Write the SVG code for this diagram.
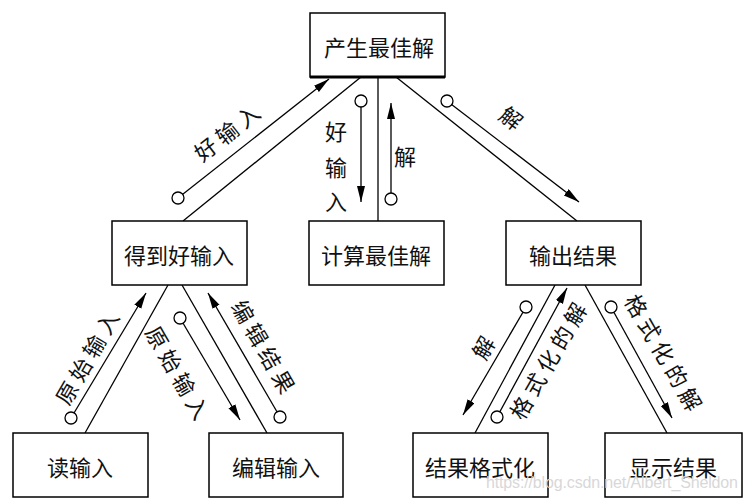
<svg xmlns="http://www.w3.org/2000/svg" width="748" height="501" viewBox="0 0 748 501">
<style>
.box{fill:#fff;stroke:#000;stroke-width:1.5}
.bt{font-family:"Noto Sans CJK SC","Noto Sans",sans-serif;font-size:22px;fill:#111;text-anchor:middle;dominant-baseline:central}
.lb{font-family:"Noto Sans CJK SC","Noto Sans",sans-serif;font-size:22px;fill:#111;text-anchor:middle;dominant-baseline:central;letter-spacing:5px}
.ln{stroke:#000;stroke-width:1.3;fill:none}
.ar{stroke:#000;stroke-width:1.3;fill:none;marker-end:url(#ah)}
.dot{fill:#fff;stroke:#000;stroke-width:1.3}
.wm{font-family:"Liberation Sans",Arial,sans-serif;font-size:16px;fill:#d8d8d8}
</style>
<defs>
<marker id="ah" markerUnits="userSpaceOnUse" markerWidth="18" markerHeight="10" refX="16" refY="4" orient="auto">
<path d="M0,0 L16,4 L0,8 Z" fill="#000"/>
</marker>
</defs>
<rect width="748" height="501" fill="#fff"/>
<g id="connectors">
<line class="ln" x1="183" y1="221" x2="361" y2="77"/>
<line class="ln" x1="378" y1="77" x2="378" y2="221"/>
<line class="ln" x1="396" y1="77" x2="577" y2="221"/>
<line class="ln" x1="85" y1="433" x2="168" y2="285"/>
<line class="ln" x1="182" y1="285" x2="267" y2="433"/>
<line class="ln" x1="555" y1="285" x2="475" y2="433"/>
<line class="ln" x1="585" y1="285" x2="667" y2="433"/>
<line class="ar" x1="178" y1="198" x2="329" y2="79"/>
<line class="ar" x1="361" y1="101" x2="361" y2="202"/>
<line class="ar" x1="391" y1="199" x2="391" y2="103"/>
<line class="ar" x1="447" y1="101" x2="579" y2="202"/>
<line class="ar" x1="71" y1="418" x2="146" y2="293"/>
<line class="ar" x1="180" y1="318" x2="240" y2="420"/>
<line class="ar" x1="280" y1="417" x2="208" y2="293"/>
<line class="ar" x1="526" y1="307" x2="463" y2="415"/>
<line class="ar" x1="497" y1="417" x2="567" y2="288"/>
<line class="ar" x1="611" y1="307" x2="672" y2="418"/>
<circle class="dot" cx="178" cy="198" r="6"/>
<circle class="dot" cx="361" cy="101" r="6"/>
<circle class="dot" cx="391" cy="199" r="6"/>
<circle class="dot" cx="447" cy="101" r="6"/>
<circle class="dot" cx="71" cy="418" r="6"/>
<circle class="dot" cx="180" cy="318" r="6"/>
<circle class="dot" cx="280" cy="417" r="6"/>
<circle class="dot" cx="526" cy="307" r="6"/>
<circle class="dot" cx="497" cy="417" r="6"/>
<circle class="dot" cx="611" cy="307" r="6"/>
<text class="lb" transform="translate(228,130) rotate(-38)">好输入</text>
<text class="bt" x="336" y="130">好</text>
<text class="bt" x="336" y="166">输</text>
<text class="bt" x="336" y="200">入</text>
<text class="bt" x="405" y="155">解</text>
<text class="bt" transform="translate(512,117) rotate(38)">解</text>
<text class="lb" transform="translate(87,355) rotate(-60)">原始输入</text>
<text class="lb" transform="translate(180,374) rotate(60)">原始输入</text>
<text class="lb" transform="translate(266,348) rotate(60)">编辑结果</text>
<text class="bt" transform="translate(482,347) rotate(-60)">解</text>
<text class="lb" transform="translate(548,358) rotate(-60)">格式化的解</text>
<text class="lb" transform="translate(666,354) rotate(60)">格式化的解</text>
</g>
<g id="n1"><rect class="box" x="310" y="13" width="135" height="64"/><line x1="310" y1="77" x2="445" y2="77" stroke="#000" stroke-width="3"/><text class="bt" x="379" y="46">产生最佳解</text></g>
<g id="n2"><rect class="box" x="112" y="221" width="135" height="64"/><text class="bt" x="179" y="254">得到好输入</text></g>
<g id="n3"><rect class="box" x="309" y="221" width="135" height="64"/><text class="bt" x="376" y="254">计算最佳解</text></g>
<g id="n4"><rect class="box" x="506" y="221" width="135" height="64"/><text class="bt" x="573" y="254">输出结果</text></g>
<g id="n5"><rect class="box" x="13" y="433" width="135" height="64"/><text class="bt" x="80" y="466">读输入</text></g>
<g id="n6"><rect class="box" x="209" y="433" width="134" height="64"/><text class="bt" x="276" y="466">编辑输入</text></g>
<g id="n7"><rect class="box" x="413" y="433" width="135" height="64"/><text class="bt" x="480" y="466">结果格式化</text></g>
<g id="n8"><rect class="box" x="605" y="433" width="137" height="64"/><text class="bt" x="673" y="466">显示结果</text></g>
<text class="wm" x="486" y="488" textLength="252">https://blog.csdn.net/Albert_Sheldon</text>
</svg>
